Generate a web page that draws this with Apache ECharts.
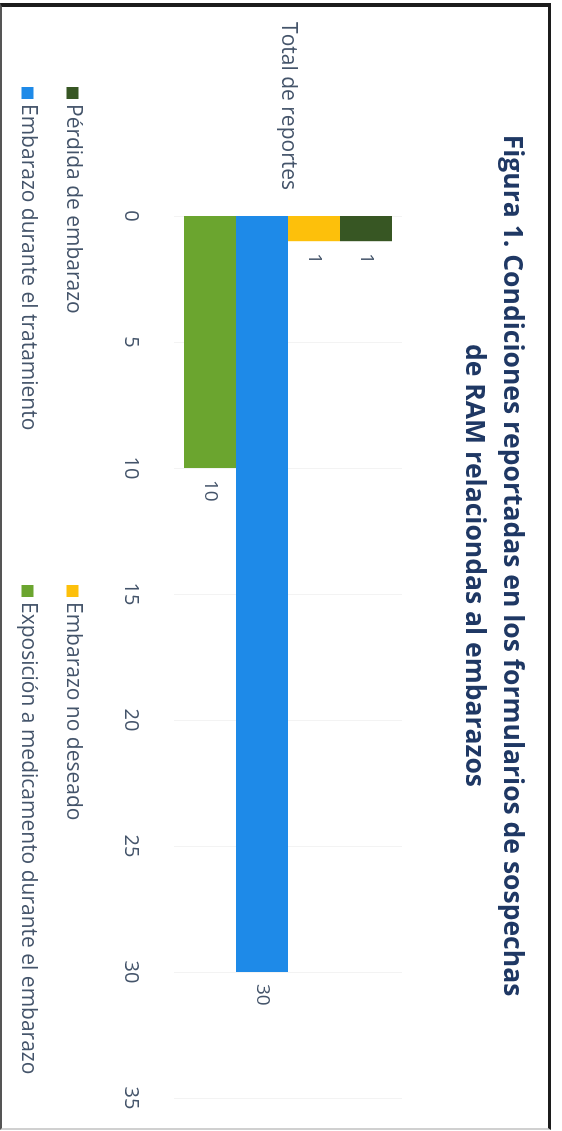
<!DOCTYPE html>
<html>
<head>
<meta charset="utf-8">
<script src="https://cdn.jsdelivr.net/npm/echarts@6/dist/echarts.min.js"></script>
<style>
  html, body { margin: 0; padding: 0; background: #fff; }
  body { width: 562px; height: 1131px; position: relative; overflow: hidden; }
  #frame {
    position: absolute; left: 0; top: 3px; width: 546px; height: 1121px;
    border-top: 4px solid #1c1c1c; border-right: 3px solid #1c1c1c;
    border-left: 2px solid #555; border-bottom: 2px solid #d0d0d0;
  }
  /* chart drawn landscape, then turned a quarter clockwise like the scan */
  #chart {
    position: absolute; left: 0; top: 0; width: 1131px; height: 562px;
    transform-origin: 0 0; transform: translateX(562px) rotate(90deg);
  }
</style>
</head>
<body>
<div id="frame"></div>
<div id="chart"></div>
<script>
// data
const categories = ["Total de reportes"];
const seriesNames = [
    "Pérdida de embarazo",
    "Embarazo no deseado",
    "Embarazo durante el tratamiento",
    "Exposición a medicamento durante el embarazo"
];
const perdida = [1];
const noDeseado = [1];
const duranteTratamiento = [30];
const exposicion = [10];
const seriesColors = ["#375623", "#FDC00B", "#1E8AE8", "#6BA52F"];

const valueMin = 0;
const valueMax = 35;
const valueStep = 5;

const FONT = "Open Sans";
const TEXT_COLOR = "#44546A";

const chart = echarts.init(document.getElementById("chart"), null, { renderer: "canvas" });

function makeSeries(name, values, color)
{
    return {
        name: name,
        type: "bar",
        data: values,
        barWidth: 52,
        barGap: "0%",
        itemStyle: { color: color },
        label: {
            show: true,
            position: "right",
            distance: 12,
            color: TEXT_COLOR,
            fontFamily: FONT,
            fontSize: 19
        }
    };
}

// legend laid out as two columns, two rows
const legendSpots = [
    { left: 87, top: 479 },
    { left: 585, top: 479 },
    { left: 87, top: 524 },
    { left: 585, top: 524 }
];

const legends = seriesNames.map(function (name, i)
{
    return {
        data: [name],
        left: legendSpots[i].left,
        top: legendSpots[i].top,
        icon: "rect",
        itemWidth: 12,
        itemHeight: 12,
        itemGap: 0,
        padding: 0,
        textStyle: { color: TEXT_COLOR, fontFamily: FONT, fontSize: 21 },
        selectedMode: false
    };
});

const option = {
    animation: false,
    backgroundColor: "transparent",
    title: {
        text: "Figura 1. Condiciones reportadas en los formularios de sospechas\nde RAM relaciondas al embarazos",
        left: "center",
        top: 26,
        textStyle: {
            color: "#1F3864",
            fontFamily: FONT,
            fontWeight: "bold",
            fontSize: 26.5,
            lineHeight: 38,
            align: "center"
        }
    },
    legend: legends,
    grid: { left: 216, right: 33, top: 160, height: 228, containLabel: false },
    xAxis: {
        type: "value",
        min: valueMin,
        max: valueMax,
        interval: valueStep,
        axisLine: { show: false },
        axisTick: { show: false },
        splitLine: { lineStyle: { color: "#f3f3f3", width: 1 } },
        axisLabel: { color: TEXT_COLOR, fontFamily: FONT, fontSize: 20, margin: 33 }
    },
    yAxis: {
        type: "category",
        data: categories,
        axisLine: { show: false },
        axisTick: { show: false },
        axisLabel: { color: TEXT_COLOR, fontFamily: FONT, fontSize: 21, margin: 26 }
    },
    series: [
        makeSeries(seriesNames[0], perdida, seriesColors[0]),
        makeSeries(seriesNames[1], noDeseado, seriesColors[1]),
        makeSeries(seriesNames[2], duranteTratamiento, seriesColors[2]),
        makeSeries(seriesNames[3], exposicion, seriesColors[3])
    ]
};

chart.setOption(option);
</script>
</body>
</html>
